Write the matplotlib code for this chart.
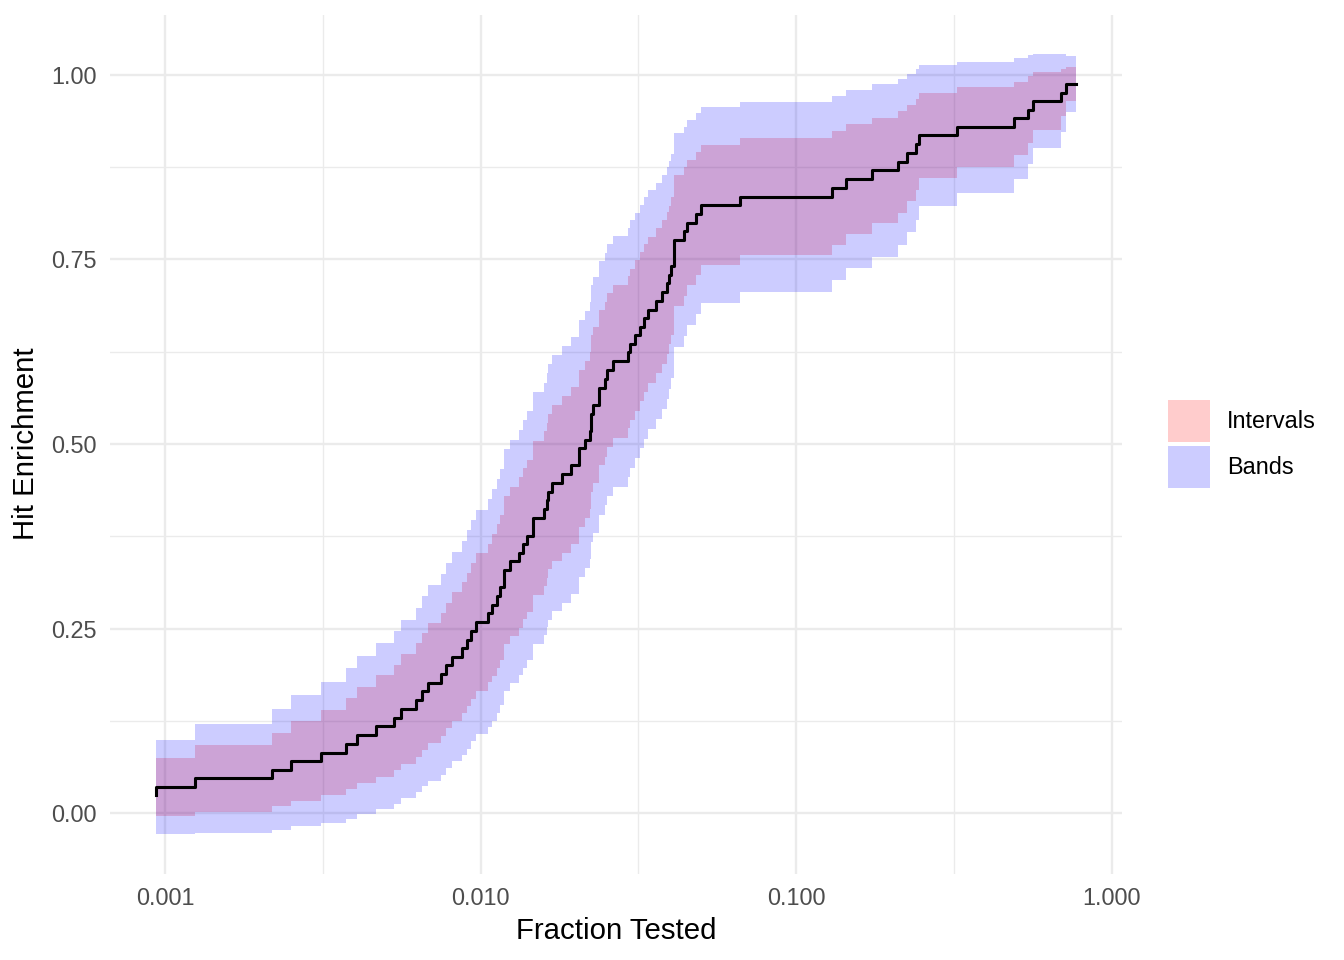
import numpy as np
import matplotlib
matplotlib.use("Agg")
import matplotlib.pyplot as plt
from matplotlib.patches import Rectangle
from matplotlib.ticker import FixedLocator

plt.rcParams['font.family'] = ['Liberation Sans', 'DejaVu Sans']

# Daten: Stufen der Hit-Enrichment-Kurve (Beginn jeder Stufe)
frac_tested = [0.000936, 0.000936, 0.001245, 0.002179, 0.002503, 0.003122, 0.003739,
               0.004061, 0.004665, 0.005319, 0.005598, 0.006246, 0.006511, 0.006832,
               0.007495, 0.007773, 0.008092, 0.008717, 0.009041, 0.009330, 0.009643,
               0.01058, 0.01085, 0.01125, 0.01153, 0.01187, 0.01240, 0.01327, 0.01367,
               0.01401, 0.01464, 0.01590, 0.01621, 0.01640, 0.01681, 0.01808, 0.01932,
               0.02052, 0.02144, 0.02213, 0.02245, 0.02278, 0.02363, 0.02481, 0.02512,
               0.02636, 0.02920, 0.02978, 0.03073, 0.03203, 0.03298, 0.03379, 0.03601,
               0.03753, 0.03893, 0.03959, 0.04017, 0.04085, 0.04416, 0.04504, 0.04819,
               0.04987, 0.06644, 0.1298, 0.1438, 0.1738, 0.2095, 0.2243, 0.2401, 0.2441,
               0.3232, 0.4884, 0.5409, 0.5610, 0.6918, 0.7158]
frac_end = 0.770

hit_enrich = [0.024, 0.035, 0.047, 0.059, 0.071, 0.082, 0.094, 0.106, 0.118, 0.129,
              0.141, 0.153, 0.165, 0.176, 0.188, 0.200, 0.212, 0.224, 0.235, 0.247,
              0.259, 0.271, 0.282, 0.294, 0.306, 0.329, 0.341, 0.353, 0.365, 0.376,
              0.400, 0.412, 0.424, 0.435, 0.447, 0.459, 0.471, 0.494, 0.506, 0.518,
              0.541, 0.553, 0.576, 0.588, 0.600, 0.612, 0.624, 0.635, 0.647, 0.659,
              0.671, 0.682, 0.694, 0.706, 0.718, 0.729, 0.741, 0.776, 0.788, 0.800,
              0.812, 0.824, 0.835, 0.847, 0.859, 0.871, 0.882, 0.894, 0.906, 0.918,
              0.929, 0.941, 0.953, 0.965, 0.976, 0.988]

# halbe Breite der Intervalle / Bänder je Stufe
interval_half = [0.032, 0.039, 0.045, 0.050, 0.054, 0.058, 0.062, 0.065, 0.069, 0.071,
                 0.074, 0.077, 0.079, 0.081, 0.083, 0.085, 0.087, 0.089, 0.090, 0.092,
                 0.093, 0.094, 0.096, 0.097, 0.098, 0.100, 0.101, 0.102, 0.102, 0.103,
                 0.104, 0.105, 0.105, 0.105, 0.106, 0.106, 0.106, 0.106, 0.106, 0.106,
                 0.106, 0.106, 0.105, 0.105, 0.104, 0.104, 0.103, 0.102, 0.102, 0.101,
                 0.100, 0.099, 0.098, 0.097, 0.096, 0.094, 0.093, 0.089, 0.087, 0.085,
                 0.083, 0.081, 0.079, 0.077, 0.074, 0.071, 0.069, 0.065, 0.062, 0.058,
                 0.054, 0.050, 0.045, 0.039, 0.032, 0.023]
band_half = [0.053, 0.064, 0.074, 0.082, 0.089, 0.096, 0.102, 0.107, 0.112, 0.117,
             0.121, 0.125, 0.129, 0.133, 0.136, 0.139, 0.142, 0.145, 0.148, 0.150,
             0.152, 0.155, 0.157, 0.159, 0.160, 0.164, 0.165, 0.166, 0.168, 0.169,
             0.171, 0.171, 0.172, 0.173, 0.173, 0.174, 0.174, 0.174, 0.174, 0.174,
             0.174, 0.173, 0.172, 0.171, 0.171, 0.170, 0.169, 0.168, 0.166, 0.165,
             0.164, 0.162, 0.160, 0.159, 0.157, 0.155, 0.152, 0.145, 0.142, 0.139,
             0.136, 0.133, 0.129, 0.125, 0.121, 0.117, 0.112, 0.107, 0.102, 0.096,
             0.089, 0.082, 0.074, 0.064, 0.053, 0.038]

x_ticks = [0.001, 0.01, 0.1, 1.0]
x_labels = ['0.001', '0.010', '0.100', '1.000']
y_ticks = [0.0, 0.25, 0.5, 0.75, 1.0]
y_labels = ['0.00', '0.25', '0.50', '0.75', '1.00']

# Stufen bis zum Endpunkt verlängern
x = np.append(frac_tested, frac_end)
y = np.append(hit_enrich, hit_enrich[-1])
hi_i = np.append(interval_half, interval_half[-1])
hi_b = np.append(band_half, band_half[-1])

W, H = 1344, 960
fig = plt.figure(figsize=(7, 5), dpi=192)
ax = fig.add_axes([110 / W, 1 - 873.5 / H, 1012 / W, 859 / H])

ax.fill_between(x, y - hi_i, y + hi_i, step='post', color='red', alpha=0.2, lw=0)
ax.fill_between(x, y - hi_b, y + hi_b, step='post', color='blue', alpha=0.2, lw=0)
ax.step(x, y, where='post', color='black', lw=1.15)

# Achsen wie bei ggplot (5% Erweiterung)
ax.set_xscale('log')
lx = np.log10([x.min(), x.max()])
dx = 0.05 * (lx[1] - lx[0])
ax.set_xlim(10 ** (lx[0] - dx), 10 ** (lx[1] + dx))
ymin = (y - hi_b).min()
ymax = (y + hi_b).max()
dy = 0.05 * (ymax - ymin)
ax.set_ylim(ymin - dy, ymax + dy)

ax.set_xticks(x_ticks)
ax.set_xticklabels(x_labels)
ax.set_yticks(y_ticks)
ax.set_yticklabels(y_labels)
ax.xaxis.set_minor_locator(FixedLocator([10 ** -2.5, 10 ** -1.5, 10 ** -0.5]))
ax.yaxis.set_minor_locator(FixedLocator([0.125, 0.375, 0.625, 0.875]))
ax.xaxis.set_minor_formatter(plt.NullFormatter())
ax.tick_params(which='both', length=0, pad=4.95, labelsize=8.8, labelcolor='#4D4D4D')

ax.set_axisbelow(True)
ax.grid(which='major', color='#EBEBEB', lw=0.9)
ax.grid(which='minor', color='#EBEBEB', lw=0.5)
for s in ax.spines.values():
    s.set_visible(False)

fig.text(616 / W, 1 - 939 / H, 'Fraction Tested', ha='center', va='baseline', fontsize=11)
fig.text(26 / W, 1 - 444 / H, 'Hit Enrichment', ha='center', va='center',
         rotation=90, fontsize=11)

# Legende
for i, (lab, col) in enumerate([('Intervals', '#FFCCCC'), ('Bands', '#CCCCFF')]):
    top = 400 + i * 46
    fig.add_artist(Rectangle((1168 / W, 1 - (top + 42) / H), 42 / W, 42 / H,
                             transform=fig.transFigure, facecolor=col, edgecolor='none'))
    fig.text(1227 / W, 1 - (top + 21.5) / H, lab, ha='left', va='center', fontsize=8.8)

fig.savefig('out.png', dpi=192)
